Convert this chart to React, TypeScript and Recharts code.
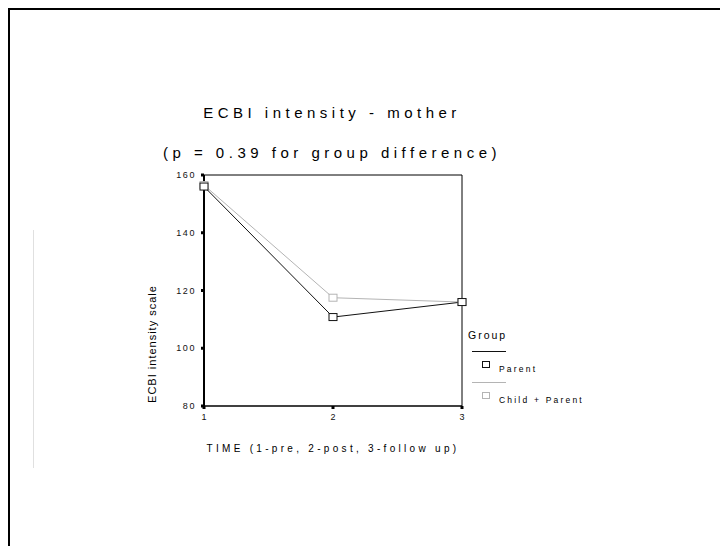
import { Legend, Line, LineChart, ReferenceLine, XAxis, YAxis } from "recharts";

const TIMES = [1, 2, 3];
const PARENT = [156, 110.8, 116];
const CHILD_PARENT = [156.5, 117.5, 116];
const Y_TICKS = [80, 100, 120, 140, 160];

const SERIES = [
  { key: "parent", name: "Parent", color: "#111111" },
  { key: "childParent", name: "Child + Parent", color: "#b4b4b4" },
];

const data = TIMES.map((t, i) => ({
  time: t,
  parent: PARENT[i],
  childParent: CHILD_PARENT[i],
}));

const FONT = "Arial, 'Liberation Sans', sans-serif";

function squareDot(color: string) {
  return (props: any) => {
    const { cx, cy, index } = props;
    if (cx == null || cy == null) return <g key={index} />;
    return (
      <rect
        key={index}
        x={cx - 4}
        y={cy - 3.5}
        width={8}
        height={7}
        fill="#fff"
        stroke={color}
        strokeWidth={1}
      />
    );
  };
}

function GroupLegend(props: any) {
  const payload = props.payload ?? [];
  const items = SERIES.map((s) => payload.find((p: any) => p.value === s.name) ?? { value: s.name, color: s.color });
  return (
    <div style={{ fontFamily: FONT, color: "#000", width: 130 }}>
      <div style={{ fontSize: 10.5, letterSpacing: 2, height: 16, lineHeight: "14px", paddingLeft: 2 }}>Group</div>
      {items.map((it: any) => (
        <div key={it.value} style={{ position: "relative", height: 31 }}>
          <div style={{ position: "absolute", left: 6, top: 7, width: 34, borderTop: `1px solid ${it.color}` }} />
          <div
            style={{
              position: "absolute",
              left: 16,
              top: 17,
              width: 6,
              height: 5,
              border: `1px solid ${it.color}`,
            }}
          />
          <div style={{ position: "absolute", left: 33, top: 20, fontSize: 8.5, letterSpacing: 2.2, whiteSpace: "nowrap" }}>
            {it.value}
          </div>
        </div>
      ))}
    </div>
  );
}

export default function App() {
  return (
    <div style={{ position: "fixed", left: 0, top: 0, width: 720, height: 546, background: "#fff", overflow: "hidden" }}>
      <div
        style={{
          position: "absolute",
          left: 8,
          top: 8,
          width: 720,
          height: 546,
          borderLeft: "2.5px solid #000",
          borderTop: "2.5px solid #000",
        }}
      />
      <div style={{ position: "absolute", left: 33, top: 230, height: 238, borderLeft: "1px solid #e0e0e0" }} />
      <div
        style={{
          position: "absolute",
          left: 0,
          width: 664,
          top: 104,
          textAlign: "center",
          fontFamily: FONT,
          fontSize: 15,
          letterSpacing: 4.5,
          color: "#000",
        }}
      >
        ECBI intensity - mother
      </div>
      <div
        style={{
          position: "absolute",
          left: 0,
          width: 664,
          top: 144,
          textAlign: "center",
          fontFamily: FONT,
          fontSize: 15,
          letterSpacing: 4.5,
          color: "#000",
        }}
      >
        (p = 0.39 for group difference)
      </div>
      <div
        style={{
          position: "absolute",
          left: 0,
          width: 666,
          top: 443,
          textAlign: "center",
          fontFamily: FONT,
          fontSize: 10,
          letterSpacing: 3.3,
          color: "#000",
        }}
      >
        TIME (1-pre, 2-post, 3-follow up)
      </div>
      <div
        style={{
          position: "absolute",
          left: 152,
          top: 344,
          transform: "translate(-50%, -50%) rotate(-90deg)",
          fontFamily: FONT,
          fontSize: 11,
          letterSpacing: 1,
          whiteSpace: "nowrap",
          color: "#000",
        }}
      >
        ECBI intensity scale
      </div>
      <div style={{ position: "absolute", left: 0, top: 0 }}>
        <LineChart width={720} height={546} data={data} margin={{ top: 175, right: 258, bottom: 110, left: 164 }}>
          <XAxis
            dataKey="time"
            type="number"
            domain={[1, 3]}
            ticks={TIMES}
            height={30}
            axisLine={{ stroke: "#000", strokeWidth: 1.5 }}
            tickLine={{ stroke: "#000", strokeWidth: 3 }}
            tickSize={3}
            tickMargin={5}
            tick={{ fontSize: 9, fill: "#111", fontFamily: FONT }}
          />
          <YAxis
            type="number"
            domain={[80, 160]}
            ticks={Y_TICKS}
            width={40}
            axisLine={{ stroke: "#000", strokeWidth: 2 }}
            tickLine={{ stroke: "#000", strokeWidth: 3 }}
            tickSize={3}
            tickMargin={5}
            tick={{ fontSize: 9, fill: "#111", fontFamily: FONT, letterSpacing: 1.6 }}
          />
          <ReferenceLine y={160} stroke="#000" strokeWidth={1} />
          <ReferenceLine x={3} stroke="#000" strokeWidth={1} />
          {[...SERIES].reverse().map((s) => (
            <Line
              key={s.key}
              dataKey={s.key}
              name={s.name}
              stroke={s.color}
              strokeWidth={1}
              dot={squareDot(s.color)}
              activeDot={false}
              isAnimationActive={false}
            />
          ))}
          <Legend
            layout="vertical"
            align="center"
            verticalAlign="middle"
            content={<GroupLegend />}
            wrapperStyle={{ left: 466, top: 328, width: 130 }}
          />
        </LineChart>
      </div>
    </div>
  );
}
